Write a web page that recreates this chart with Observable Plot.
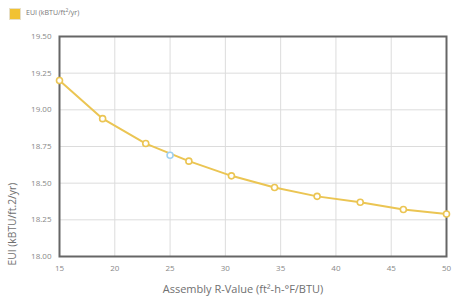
<!DOCTYPE html>
<html>
<head>
<meta charset="utf-8">
<script src="https://cdn.jsdelivr.net/npm/d3@7"></script>
<script src="https://cdn.jsdelivr.net/npm/@observablehq/plot@0.6"></script>
<style>
  body { margin: 0; background: #fff; font-family: "Open Sans", sans-serif; }
  #legend { height: 26px; position: relative; }
  #legend .sw { position: absolute; left: 9px; top: 8px; width: 10px; height: 10px; background: #f1c232; border: 1px solid #e8e0c8; }
  #legend .lb { position: absolute; left: 26px; top: 7px; font-size: 7px; color: #777; }
  .xl { font-size: 11px; }
  .yl { font-size: 10.3px; }
</style>
</head>
<body>
<div id="legend"><span class="sw"></span><span class="lb">EUI (kBTU/ft<sup style="font-size:5px">2</sup>/yr)</span></div>
<div id="chart"></div>
<script>
const rValues = [15, 18.9, 22.8, 26.7, 30.55, 34.45, 38.3, 42.2, 46.1, 50];
const euiValues = [19.20, 18.94, 18.77, 18.65, 18.55, 18.47, 18.41, 18.37, 18.32, 18.29];
const hoverR = [25];
const hoverEui = [18.69];
const xTicks = [15, 20, 25, 30, 35, 40, 45, 50];
const yTicks = [18.00, 18.25, 18.50, 18.75, 19.00, 19.25, 19.50];
const xTitle = "Assembly R-Value (ft²-h-°F/BTU)";
const yTitle = "EUI (kBTU/ft.2/yr)";

const data = rValues.map((r, i) => ({r, eui: euiValues[i]}));
const hover = hoverR.map((r, i) => ({r, eui: hoverEui[i]}));
const lineColor = "#ebc553";

const chart = Plot.plot({
  width: 452,
  height: 274,
  marginTop: 10,
  marginBottom: 44,
  marginLeft: 59,
  marginRight: 6,
  style: {fontFamily: "Open Sans, sans-serif", fontSize: "8px", color: "#888", background: "#fff"},
  x: {domain: [15, 50], ticks: xTicks, tickSize: 0, tickPadding: 9, label: null},
  y: {domain: [18, 19.5], ticks: yTicks, tickSize: 0, tickPadding: 8, tickFormat: d3.format(".2f"), label: null},
  marks: [
    Plot.gridX(xTicks, {stroke: "#dcdcdc", strokeOpacity: 1}),
    Plot.gridY(yTicks, {stroke: "#dcdcdc", strokeOpacity: 1}),
    Plot.frame({stroke: "#666", strokeWidth: 2}),
    Plot.line(data, {x: "r", y: "eui", stroke: lineColor, strokeWidth: 2}),
    Plot.dot(data, {x: "r", y: "eui", r: 3, fill: "#fff", stroke: lineColor, strokeWidth: 1.6}),
    Plot.dot(hover, {x: "r", y: "eui", r: 3, fill: "#fff", stroke: "#9fd0f0", strokeWidth: 1.6}),
    Plot.text([xTitle], {frameAnchor: "bottom", text: d => d, dx: -10, dy: 36, className: "xl", fill: "#707070"}),
    Plot.text([yTitle], {frameAnchor: "bottom-left", text: d => d, rotate: -90, textAnchor: "start", dx: -44, dy: 9, className: "yl", fill: "#707070"})
  ]
});
document.getElementById("chart").appendChild(chart);
</script>
</body>
</html>
